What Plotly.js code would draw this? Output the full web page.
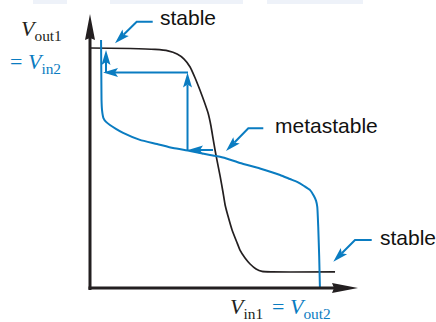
<!DOCTYPE html>
<html><head><meta charset="utf-8">
<script src="https://cdn.plot.ly/plotly-3.0.1.min.js"></script>
<style>html,body{margin:0;padding:0;background:#fff}</style>
</head><body><div id="chart" style="width:436px;height:322px"></div>
<script>
// Inverter 1 transfer curve (black): Vout1 vs Vin1
const vin1  = [0, 0.167, 0.271, 0.325, 0.363, 0.392, 0.417, 0.438, 0.458, 0.475, 0.492, 0.504, 0.513, 0.521, 0.529, 0.542, 0.554, 0.563, 0.575, 0.592, 0.613, 0.625, 0.646, 0.667, 0.692, 0.717, 0.758, 1.021];
const vout1 = [1.000, 0.998, 0.994, 0.988, 0.975, 0.954, 0.921, 0.875, 0.825, 0.779, 0.729, 0.675, 0.621, 0.575, 0.533, 0.467, 0.400, 0.346, 0.300, 0.242, 0.188, 0.158, 0.125, 0.100, 0.079, 0.069, 0.067, 0.067];
// Inverter 2 transfer curve (blue): Vin2 (= Vout1) vs Vout2 (= Vin1)
const vout2 = [0.046, 0.048, 0.050, 0.056, 0.067, 0.083, 0.108, 0.138, 0.208, 0.279, 0.346, 0.417, 0.500, 0.554, 0.625, 0.708, 0.792, 0.833, 0.863, 0.892, 0.917, 0.933, 0.942, 0.947, 0.951, 0.955, 0.958];
const vin2  = [1.033, 0.783, 0.742, 0.708, 0.692, 0.679, 0.663, 0.646, 0.617, 0.600, 0.583, 0.571, 0.554, 0.544, 0.521, 0.498, 0.471, 0.454, 0.442, 0.425, 0.408, 0.383, 0.363, 0.338, 0.254, 0.129, 0.000];
// Iteration path (arrows) from near the metastable point to the stable state
const stepFromX = [0.5125, 0.4063, 0.4083, 0.0667];
const stepFromY = [0.575, 0.575, 0.898, 0.898];
const stepToX   = [0.4083, 0.4063, 0.0542, 0.0667];
const stepToY   = [0.575, 0.898, 0.898, 0.9917];
// Callouts
const calloutText  = ['stable', 'metastable', 'stable'];
const calloutTailX = [0.2613, 0.7221, 1.1738];
const calloutTailY = [1.1096, 0.6654, 0.2000];
const calloutElbX  = [0.1946, 0.6596, 1.1042];
const calloutElbY  = [1.1096, 0.6654, 0.2000];
const calloutTipX  = [0.1042, 0.5667, 1.0138];
const calloutTipY  = [1.0196, 0.5708, 0.1096];
const calloutLabX  = [0.2833, 0.7625, 1.2000];
const calloutLabY  = [1.1263, 0.6762, 0.2096];
// Axis titles
const yTitle1 = '<i>V</i><sub>out1</sub>';
const yTitle2 = '= <i>V</i><sub>in2</sub>';
const xTitle1 = '<i>V</i><sub>in1</sub>';
const xTitle2 = '= <i>V</i><sub>out2</sub>';

const BLUE = '#0a7cc1', BLACK = '#231f20';
const PX = 240; // pixels per unit (both axes)
const shapes = [];
const annotations = [];

function head(tx, ty, fx, fy, len, hw, notch, color) {
  const dx = tx - fx, dy = ty - fy, L = Math.hypot(dx, dy);
  const ux = dx / L, uy = dy / L, nx = -uy, ny = ux;
  const bx = tx - ux * len, by = ty - uy * len;
  const mx = tx - ux * (len - notch), my = ty - uy * (len - notch);
  shapes.push({type: 'path', xref: 'x', yref: 'y', line: {width: 0}, fillcolor: color,
    path: `M${tx},${ty} L${bx + nx * hw},${by + ny * hw} L${mx},${my} L${bx - nx * hw},${by - ny * hw} Z`});
  return [mx, my];
}

// faint band at the top of the scan
[[33, 67], [110, 243], [267, 363]].forEach(([a, b]) => shapes.push({type: 'rect', xref: 'paper', yref: 'paper',
  x0: a / 436, x1: b / 436, y0: 1 - 4 / 322, y1: 1, line: {width: 0}, fillcolor: '#eef2f9', layer: 'below'}));

// axes with arrowheads
{
  const e1 = head(0, 1.1417, 0, 0, 26 / PX, 5 / PX, 2 / PX, BLACK);
  shapes.push({type: 'line', xref: 'x', yref: 'y', x0: 0, y0: -0.0083, x1: e1[0], y1: e1[1], line: {color: BLACK, width: 3}});
  const e2 = head(1.1167, 0, 0, 0, 26 / PX, 5 / PX, 2 / PX, BLACK);
  shapes.push({type: 'line', xref: 'x', yref: 'y', x0: -0.0063, y0: 0, x1: e2[0], y1: e2[1], line: {color: BLACK, width: 3}});
}
// iteration arrows
for (let i = 0; i < stepFromX.length; i++) {
  const e = head(stepToX[i], stepToY[i], stepFromX[i], stepFromY[i], 15 / PX, 4.5 / PX, 3 / PX, BLUE);
  shapes.push({type: 'line', xref: 'x', yref: 'y', x0: stepFromX[i], y0: stepFromY[i], x1: e[0], y1: e[1], line: {color: BLUE, width: 2}});
}
// callouts
for (let i = 0; i < calloutText.length; i++) {
  const e = head(calloutTipX[i], calloutTipY[i], calloutElbX[i], calloutElbY[i], 15 / PX, 4.5 / PX, 3 / PX, BLUE);
  shapes.push({type: 'path', xref: 'x', yref: 'y', line: {color: BLUE, width: 2},
    path: `M${calloutTailX[i]},${calloutTailY[i]} L${calloutElbX[i]},${calloutElbY[i]} L${e[0]},${e[1]}`});
  annotations.push({x: calloutLabX[i], y: calloutLabY[i], xref: 'x', yref: 'y', xanchor: 'left', yanchor: 'middle',
    showarrow: false, text: calloutText[i], font: {family: 'Liberation Sans, Arial', size: 21, color: '#111'}});
}
const serif = c => ({family: 'Liberation Serif, Times New Roman', size: 22, color: c});
annotations.push({x: -0.2958, y: 1.0771, xref: 'x', yref: 'y', xanchor: 'left', yanchor: 'middle', showarrow: false, text: yTitle1, font: serif(BLACK)});
annotations.push({x: -0.3417, y: 0.9396, xref: 'x', yref: 'y', xanchor: 'left', yanchor: 'middle', showarrow: false, text: yTitle2, font: serif(BLUE)});
annotations.push({x: 0.5750, y: -0.0813, xref: 'x', yref: 'y', xanchor: 'left', yanchor: 'middle', showarrow: false, text: xTitle1, font: serif(BLACK)});
annotations.push({x: 0.7500, y: -0.0813, xref: 'x', yref: 'y', xanchor: 'left', yanchor: 'middle', showarrow: false, text: xTitle2, font: serif(BLUE)});

const traces = [
  {x: vin1, y: vout1, mode: 'lines', line: {color: BLACK, width: 1.7, shape: 'spline', smoothing: 0.5}, hoverinfo: 'skip'},
  {x: vout2, y: vin2, mode: 'lines', line: {color: BLUE, width: 2, shape: 'spline', smoothing: 0.5}, hoverinfo: 'skip'}
];
const layout = {
  width: 436, height: 322, margin: {l: 0, r: 0, t: 0, b: 0},
  paper_bgcolor: '#fff', plot_bgcolor: '#fff', showlegend: false,
  xaxis: {range: [-90 / PX, (436 - 90) / PX], visible: false, fixedrange: true},
  yaxis: {range: [(288 - 322) / PX, 288 / PX], visible: false, fixedrange: true},
  shapes, annotations
};
Plotly.newPlot('chart', traces, layout, {staticPlot: true, displayModeBar: false});
</script></body></html>
